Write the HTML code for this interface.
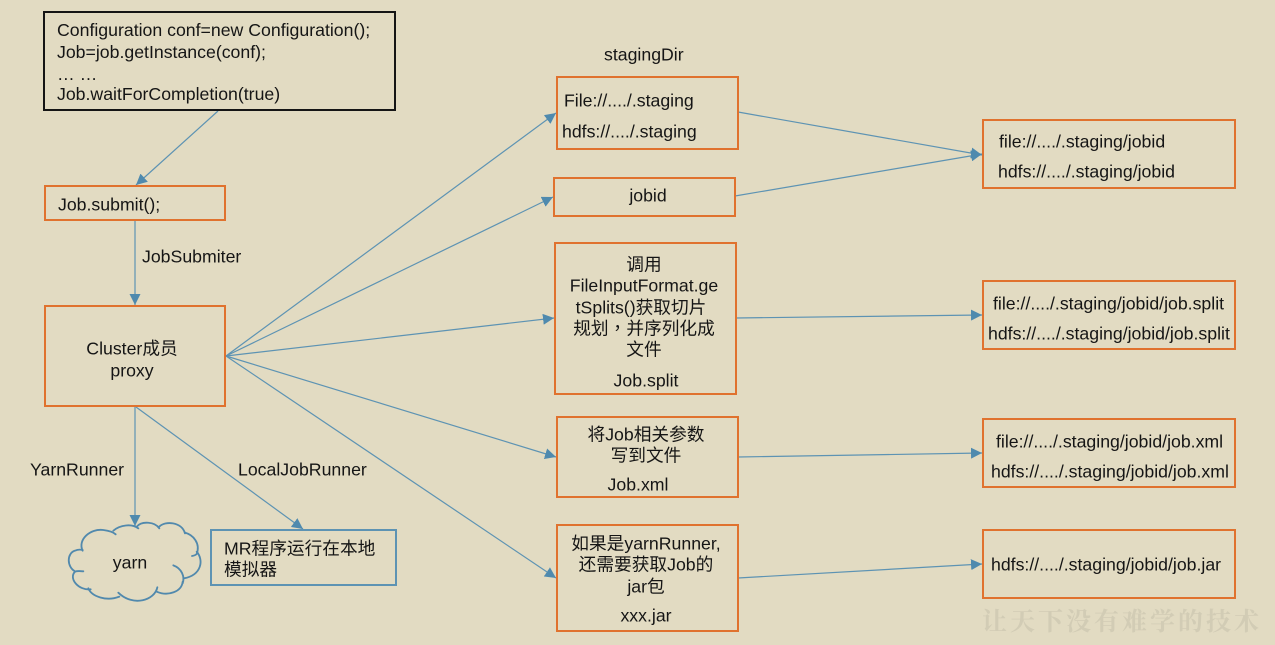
<!DOCTYPE html>
<html><head><meta charset="utf-8"><style>
html,body{margin:0;padding:0;background:#e2dbc2;width:1275px;height:645px;overflow:hidden}
svg{display:block;filter:blur(.3px)}
text{font-family:"Liberation Sans","Noto Sans CJK SC",sans-serif;font-size:17.7px;fill:#151515}
.m{text-anchor:middle}
.o{fill:none;stroke:#e0722e;stroke-width:2}
.l{stroke:#5d93b3;stroke-width:1.2;fill:none}
.a{fill:#4f8aae}
</style></head><body>
<svg width="1275" height="645" viewBox="0 0 1275 645" xmlns="http://www.w3.org/2000/svg">
<rect width="1275" height="645" fill="#e2dbc2"/>
<defs><marker id="h" viewBox="0 0 11 11" refX="11" refY="5.5" markerWidth="11" markerHeight="11" markerUnits="userSpaceOnUse" orient="auto"><path d="M0 0L11 5.5L0 11Z" class="a"/></marker></defs>

<!-- connectors -->
<g class="l">
<line x1="218" y1="111" x2="136" y2="185" marker-end="url(#h)"/>
<line x1="135" y1="220" x2="135" y2="305" marker-end="url(#h)"/>
<line x1="135" y1="407" x2="135" y2="526" marker-end="url(#h)"/>
<line x1="136" y1="407" x2="303" y2="529" marker-end="url(#h)"/>
<line x1="226" y1="356" x2="556" y2="113" marker-end="url(#h)"/>
<line x1="226" y1="356" x2="553" y2="197" marker-end="url(#h)"/>
<line x1="226" y1="356" x2="554" y2="318" marker-end="url(#h)"/>
<line x1="226" y1="356" x2="556" y2="457" marker-end="url(#h)"/>
<line x1="226" y1="356" x2="556" y2="578" marker-end="url(#h)"/>
<line x1="738" y1="112" x2="982" y2="155" marker-end="url(#h)"/>
<line x1="735" y1="196" x2="982" y2="154" marker-end="url(#h)"/>
<line x1="736" y1="318" x2="982" y2="315" marker-end="url(#h)"/>
<line x1="738" y1="457" x2="982" y2="453" marker-end="url(#h)"/>
<line x1="738" y1="578" x2="982" y2="564" marker-end="url(#h)"/>
</g>

<!-- boxes -->
<rect x="44" y="12" width="351" height="98" fill="none" stroke="#151515" stroke-width="2"/>
<rect class="o" x="45" y="186" width="180" height="34"/>
<rect class="o" x="45" y="306" width="180" height="100"/>
<rect x="211" y="530" width="185" height="55" fill="none" stroke="#5d93b3" stroke-width="2"/>
<rect class="o" x="557" y="77" width="181" height="72"/>
<rect class="o" x="554" y="178" width="181" height="38"/>
<rect class="o" x="555" y="243" width="181" height="151"/>
<rect class="o" x="557" y="417" width="181" height="80"/>
<rect class="o" x="557" y="525" width="181" height="106"/>
<rect class="o" x="983" y="120" width="252" height="68"/>
<rect class="o" x="983" y="281" width="252" height="68"/>
<rect class="o" x="983" y="419" width="252" height="68"/>
<rect class="o" x="983" y="530" width="252" height="68"/>

<!-- cloud -->
<g transform="translate(0,400) scale(.33333)" fill="none" stroke="#5189ad" stroke-width="5.5" stroke-linecap="round">
<path d="M248 452C232 420 270 385 310 390C325 392 340 396 347 403"/>
<path d="M340 392C360 375 395 370 415 385"/>
<path d="M410 380C425 362 465 365 478 385"/>
<path d="M478 380C495 362 545 365 555 400"/>
<path d="M555 398C580 405 602 430 590 462C587 465 582 467 576 468"/>
<path d="M590 455C612 480 605 525 552 535"/>
<path d="M520 496C545 505 555 530 548 550"/>
<path d="M548 545C545 575 505 590 470 575"/>
<path d="M472 562C465 600 400 622 355 578"/>
<path d="M358 590C320 605 275 590 265 565"/>
<path d="M272 568C235 572 205 535 225 515C232 512 240 513 250 514"/>
<path d="M225 514C200 500 200 460 225 452C232 449 240 448 248 450"/>
</g>

<!-- text -->
<g transform="translate(0,.6)">
<text x="57" y="35.5">Configuration conf=new Configuration();</text>
<text x="57" y="57.5">Job=job.getInstance(conf);</text>
<text x="57" y="79.5">… …</text>
<text x="57" y="99.5">Job.waitForCompletion(true)</text>
<text x="58" y="210">Job.submit();</text>
<text x="142" y="262">JobSubmiter</text>
<text class="m" x="132" y="354">Cluster成员</text>
<text class="m" x="132" y="376">proxy</text>
<text x="30" y="475">YarnRunner</text>
<text x="238" y="475">LocalJobRunner</text>
<text class="m" x="130" y="568">yarn</text>
<text x="224" y="554">MR程序运行在本地</text>
<text x="224" y="575">模拟器</text>
<text x="604" y="60">stagingDir</text>
<text x="564" y="106">File://..../.staging</text>
<text x="562" y="137">hdfs://..../.staging</text>
<text class="m" x="648" y="201">jobid</text>
<text class="m" x="644" y="270">调用</text>
<text class="m" x="644" y="291">FileInputFormat.ge</text>
<text class="m" x="641" y="313">tSplits()获取切片</text>
<text class="m" x="644" y="334">规划<tspan style="font-family:'Noto Sans CJK TC',sans-serif">，</tspan>并序列化成</text>
<text class="m" x="644" y="355">文件</text>
<text class="m" x="646" y="386">Job.split</text>
<text class="m" x="646" y="440">将Job相关参数</text>
<text class="m" x="646" y="461">写到文件</text>
<text class="m" x="638" y="490">Job.xml</text>
<text class="m" x="646" y="549">如果是yarnRunner,</text>
<text class="m" x="646" y="570">还需要获取Job的</text>
<text class="m" x="646" y="592">jar包</text>
<text class="m" x="646" y="621">xxx.jar</text>
<text x="999" y="147">file://..../.staging/jobid</text>
<text x="998" y="177">hdfs://..../.staging/jobid</text>
<text x="993" y="309">file://..../.staging/jobid/job.split</text>
<text x="988" y="339">hdfs://..../.staging/jobid/job.split</text>
<text x="996" y="447">file://..../.staging/jobid/job.xml</text>
<text x="991" y="477">hdfs://..../.staging/jobid/job.xml</text>
<text x="991" y="570">hdfs://..../.staging/jobid/job.jar</text>
</g>
<text x="982" y="630" style="font-family:'Noto Serif CJK SC','Noto Sans CJK SC',serif;font-size:25px;font-weight:700;fill:#d2ccb5;letter-spacing:3px">让天下没有难学的技术</text>
</svg>
</body></html>
